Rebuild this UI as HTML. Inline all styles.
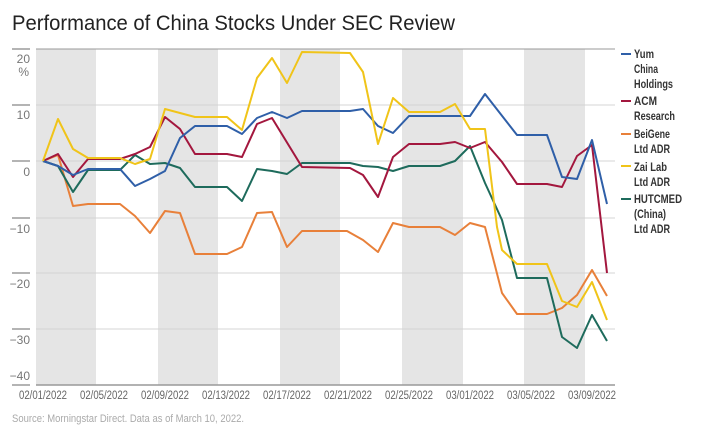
<!DOCTYPE html>
<html><head><meta charset="utf-8"><style>
html,body{margin:0;padding:0;background:#fff;}
svg{display:block;font-family:"Liberation Sans",sans-serif;}
</style></head><body>
<svg width="703" height="436" viewBox="0 0 703 436" xmlns="http://www.w3.org/2000/svg">
<text x="12" y="30" font-size="21" fill="#222" textLength="443" lengthAdjust="spacingAndGlyphs">Performance of China Stocks Under SEC Review</text>
<g fill="#e5e5e5">
<rect x="36" y="49" width="60" height="336"/>
<rect x="158" y="49" width="60" height="336"/>
<rect x="280" y="49" width="60" height="336"/>
<rect x="402" y="49" width="61" height="336"/>
<rect x="524" y="49" width="61" height="336"/>
</g>
<g stroke="#d4d4d4" stroke-width="1">
<line x1="36" y1="105" x2="615" y2="105"/>
<line x1="36" y1="161" x2="615" y2="161"/>
<line x1="36" y1="218" x2="615" y2="218"/>
<line x1="36" y1="273" x2="615" y2="273"/>
<line x1="36" y1="329" x2="615" y2="329"/>
</g>
<line x1="36" y1="49" x2="615" y2="49" stroke="#999"/>
<line x1="36" y1="385" x2="615" y2="385" stroke="#999" stroke-width="1.5"/>
<g stroke="#888" stroke-width="1.2">
<line x1="12" y1="49" x2="30" y2="49"/><line x1="12" y1="105" x2="30" y2="105"/>
<line x1="12" y1="161" x2="30" y2="161"/><line x1="12" y1="218" x2="30" y2="218"/>
<line x1="12" y1="273" x2="30" y2="273"/><line x1="12" y1="329" x2="30" y2="329"/>
<line x1="12" y1="385" x2="30" y2="385"/>
</g>
<g font-size="12" fill="#777" text-anchor="end">
<text x="30" y="63">20</text><text x="29" y="76">%</text>
<text x="30" y="119">10</text><text x="30" y="176">0</text>
<text x="30" y="233">−10</text><text x="30" y="288">−20</text>
<text x="30" y="344">−30</text><text x="30" y="380">−40</text>
</g>
<g font-size="11.5" fill="#666">
<text x="19" y="399" textLength="48" lengthAdjust="spacingAndGlyphs">02/01/2022</text>
<text x="80" y="399" textLength="48" lengthAdjust="spacingAndGlyphs">02/05/2022</text>
<text x="141" y="399" textLength="48" lengthAdjust="spacingAndGlyphs">02/09/2022</text>
<text x="202" y="399" textLength="48" lengthAdjust="spacingAndGlyphs">02/13/2022</text>
<text x="263" y="399" textLength="48" lengthAdjust="spacingAndGlyphs">02/17/2022</text>
<text x="324" y="399" textLength="48" lengthAdjust="spacingAndGlyphs">02/21/2022</text>
<text x="385" y="399" textLength="48" lengthAdjust="spacingAndGlyphs">02/25/2022</text>
<text x="446" y="399" textLength="48" lengthAdjust="spacingAndGlyphs">03/01/2022</text>
<text x="507" y="399" textLength="48" lengthAdjust="spacingAndGlyphs">03/05/2022</text>
<text x="568" y="399" textLength="48" lengthAdjust="spacingAndGlyphs">03/09/2022</text>
</g>
<text x="12" y="422" font-size="11" fill="#aaa" textLength="232" lengthAdjust="spacingAndGlyphs">Source: Morningstar Direct. Data as of March 10, 2022.</text>
<g fill="none" stroke-width="2" stroke-linejoin="round">
<polyline stroke="#e8803a" points="43,161 58,155 73,206 88,204 120,204 135,216 150,233 165,211 180,213 195,254 227,254 242,247 257,213 272,212 287,247 302,231 347,231 363,240 378,252 393,223 409,227 440,227 455,235 470,223 485,227 502,293 517,314 547,314 562,308 577,295 592,270 607,296"/>
<polyline stroke="#1e6b5c" points="43,161 58,166 73,192 88,170 120,170 135,155 150,164 165,163 180,168 195,187 227,187 242,201 257,169 272,171 287,174 302,163 350,163 363,166 378,167 393,171 409,166 440,166 455,161 470,146 485,183 502,220 517,278 547,278 562,337 577,348 592,315 607,341"/>
<polyline stroke="#a3173e" points="43,161 58,154 73,177 88,159 120,159 135,154 150,147 165,117 180,129 195,154 227,154 242,157 257,124 272,118 302,167 350,168 363,175 378,197 393,157 409,144 440,144 455,142 470,148 485,142 502,162 517,184 547,184 562,187 577,156 592,145 607,273"/>
<polyline stroke="#2f5fa8" points="43,161 58,166 73,175 88,169 120,169 135,186 150,179 165,171 180,138 195,126 227,126 242,134 257,118 272,112 287,118 302,111 350,111 363,109 378,126 393,133 409,116 470,116 485,94 517,135 547,135 562,177 577,179 592,140 607,204"/>
<polyline stroke="#f0c419" points="43,161 58,119 73,149 88,158 120,158 135,164 150,159 165,109 195,117 227,117 242,130 257,78 272,58 287,83 302,52 350,53 363,72 378,144 393,98 409,112 440,112 455,104 470,129 485,129 497,227 502,250 517,264 547,264 562,301 577,307 592,282 607,320"/>
</g>
<g stroke-width="2">
<line x1="621" y1="54" x2="631" y2="54" stroke="#2f5fa8"/>
<line x1="621" y1="101" x2="631" y2="101" stroke="#a3173e"/>
<line x1="621" y1="134" x2="631" y2="134" stroke="#e8803a"/>
<line x1="621" y1="166" x2="631" y2="166" stroke="#f0c419"/>
<line x1="621" y1="199" x2="631" y2="199" stroke="#1e6b5c"/>
</g>
<g font-size="11.5" font-weight="bold" fill="#333">
<text x="634" y="58" textLength="20" lengthAdjust="spacingAndGlyphs">Yum</text>
<text x="634" y="73" textLength="24" lengthAdjust="spacingAndGlyphs">China</text>
<text x="634" y="88" textLength="39" lengthAdjust="spacingAndGlyphs">Holdings</text>
<text x="634" y="105" textLength="23" lengthAdjust="spacingAndGlyphs">ACM</text>
<text x="634" y="120" textLength="41" lengthAdjust="spacingAndGlyphs">Research</text>
<text x="634" y="138" textLength="36" lengthAdjust="spacingAndGlyphs">BeiGene</text>
<text x="634" y="153" textLength="36" lengthAdjust="spacingAndGlyphs">Ltd ADR</text>
<text x="634" y="171" textLength="33" lengthAdjust="spacingAndGlyphs">Zai Lab</text>
<text x="634" y="186" textLength="36" lengthAdjust="spacingAndGlyphs">Ltd ADR</text>
<text x="634" y="203" textLength="48" lengthAdjust="spacingAndGlyphs">HUTCMED</text>
<text x="634" y="218" textLength="32" lengthAdjust="spacingAndGlyphs">(China)</text>
<text x="634" y="233" textLength="36" lengthAdjust="spacingAndGlyphs">Ltd ADR</text>
</g>
</svg>
</body></html>
